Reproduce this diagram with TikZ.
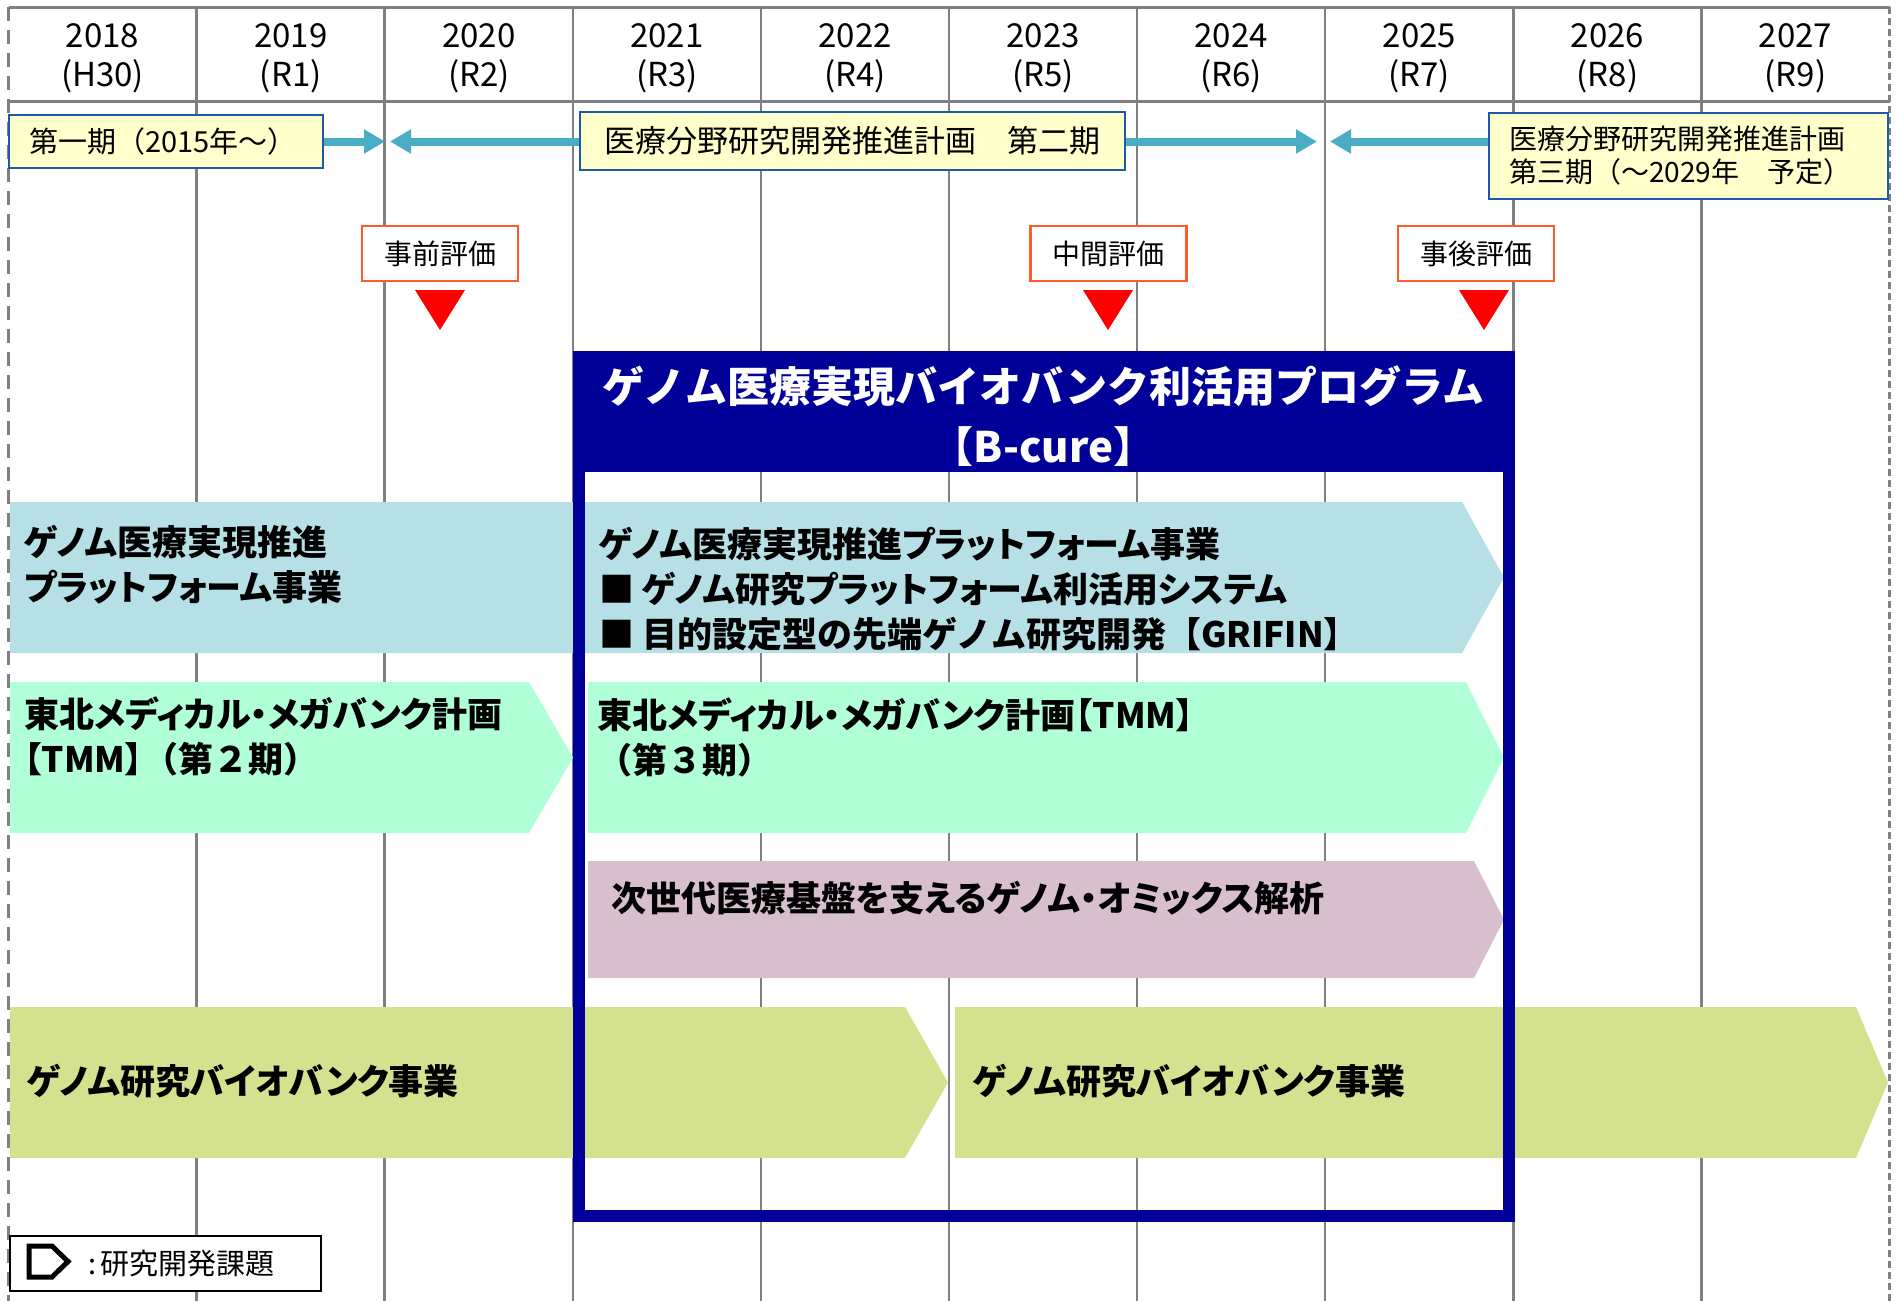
\documentclass[tikz,border=0pt]{standalone}
\usepackage{fontspec}
\setmainfont{Noto Sans CJK JP}
\newfontfamily\bandfont{Noto Sans CJK JP}[RawFeature=+palt]
\usetikzlibrary{arrows.meta}
\definecolor{gridgray}{RGB}{128,128,128}
\definecolor{phasefill}{RGB}{255,255,204}
\definecolor{phaseline}{RGB}{30,90,170}
\definecolor{phaseteal}{RGB}{75,172,198}
\definecolor{evalline}{RGB}{255,90,40}
\definecolor{bcure}{RGB}{0,0,153}
\definecolor{genomeblue}{RGB}{183,224,230}
\definecolor{tmmgreen}{RGB}{176,255,215}
\definecolor{omicsmauve}{RGB}{216,191,206}
\definecolor{biobankgreen}{RGB}{212,225,142}

\begin{document}
\begin{tikzpicture}[x=1pt,y=-1pt,
    yearlabel/.style ={align=center, font=\fontsize{33}{39}\selectfont},
    phasebox/.style ={draw=phaseline, fill=phasefill, line width=2.5pt, font=\fontsize{28}{33}\selectfont},
    phasearrow/.style ={draw=phaseteal, line width=8pt, -{Triangle[width=23pt,length=21pt]}},
    evalbox/.style ={draw=evalline, fill=white, line width=2.5pt, minimum width=156pt, minimum height=55pt, font=\fontsize{28}{33}\selectfont},
    gridline/.style ={gridgray, line width=2.5pt},
    bandtext/.style ={anchor=west, align=left, inner sep=0pt, font=\bandfont\bfseries\fontsize{35}{45}\selectfont}]
   \useasboundingbox (0,0) rectangle (1897,1301);
   \fill[white] (0,0) rectangle (1897,1301);

   % year grid
   \draw[gridline, line width=3pt] (8.5,7) -- (1889.5,7);
   \draw[gridline, line width=3pt] (8.5,101.5) -- (1889.5,101.5);
   \draw[gridline, dash pattern=on 14pt off 9pt] (8.5,7) -- (8.5,1301);
   \draw[gridline] (196.6,7) -- (196.6,1301);
   \draw[gridline] (384.7,7) -- (384.7,1301);
   \draw[gridline] (572.8,7) -- (572.8,1301);
   \draw[gridline] (760.9,7) -- (760.9,1301);
   \draw[gridline] (949.0,7) -- (949.0,1301);
   \draw[gridline] (1137.1,7) -- (1137.1,1301);
   \draw[gridline] (1325.2,7) -- (1325.2,1301);
   \draw[gridline] (1513.3,7) -- (1513.3,1301);
   \draw[gridline] (1701.4,7) -- (1701.4,1301);
   \draw[gridline, dash pattern=on 7pt off 4pt] (1889.5,7) -- (1889.5,1301);

   \node[yearlabel] (y2018) at (102.6,58) {2018\\(H30)};
   \node[yearlabel] (y2019) at (290.7,58) {2019\\(R1)};
   \node[yearlabel] (y2020) at (478.8,58) {2020\\(R2)};
   \node[yearlabel] (y2021) at (666.9,58) {2021\\(R3)};
   \node[yearlabel] (y2022) at (855.0,58) {2022\\(R4)};
   \node[yearlabel] (y2023) at (1043.1,58) {2023\\(R5)};
   \node[yearlabel] (y2024) at (1231.2,58) {2024\\(R6)};
   \node[yearlabel] (y2025) at (1419.3,58) {2025\\(R7)};
   \node[yearlabel] (y2026) at (1607.4,58) {2026\\(R8)};
   \node[yearlabel] (y2027) at (1795.5,58) {2027\\(R9)};

   % plan periods
   \node[phasebox, text width=274pt, inner xsep=20pt, minimum height=53pt, align=left, font=\fontsize{29}{33}\selectfont] (p1) at (166,141.5) {第一期（2015年～）};
   \node[phasebox, minimum width=545pt, minimum height=58pt, font=\fontsize{31}{36}\selectfont] (p2) at (852.5,141) {医療分野研究開発推進計画　第二期};
   \node[phasebox, text width=359pt, inner xsep=20pt, minimum height=86pt, align=left] (p3) at (1688.5,156) {医療分野研究開発推進計画\\第三期（～2029年　予定）};

   \coordinate (t1) at (385,141.5);
   \coordinate (t2) at (390,141.5);
   \coordinate (t3) at (1317,141.5);
   \coordinate (t4) at (1330,141.5);
   \draw[phasearrow] (p1.east |- t1) -- (t1);
   \draw[phasearrow] (p2.west |- t2) -- (t2);
   \draw[phasearrow] (p2.east |- t3) -- (t3);
   \draw[phasearrow] (p3.west |- t4) -- (t4);

   % evaluations
   \node[evalbox] (ev1) at (440,253.5) {事前評価};
   \node[evalbox] (ev2) at (1108.5,253.5) {中間評価};
   \node[evalbox] (ev3) at (1476,253.5) {事後評価};
   \fill[red] (415,290) -- (465,290) -- (440,330) -- cycle;
   \fill[red] (1083,290) -- (1133,290) -- (1108,330) -- cycle;
   \fill[red] (1459,290) -- (1509,290) -- (1484,330) -- cycle;

   % research projects
   \fill[genomeblue] (10,502) -- (1462,502) -- (1504,577.5) -- (1462,653) -- (10,653) -- cycle;
   \fill[tmmgreen] (10,682) -- (529,682) -- (573,757.5) -- (529,833) -- (10,833) -- cycle;
   \fill[tmmgreen] (588,682) -- (1466,682) -- (1504,757.5) -- (1466,833) -- (588,833) -- cycle;
   \fill[omicsmauve] (588,861) -- (1474,861) -- (1504,919.5) -- (1474,978) -- (588,978) -- cycle;
   \fill[biobankgreen] (10,1007) -- (905,1007) -- (948,1082.5) -- (905,1158) -- (10,1158) -- cycle;
   \fill[biobankgreen] (955,1007) -- (1856,1007) -- (1888,1082.5) -- (1856,1158) -- (955,1158) -- cycle;

   % B-cure frame
   \draw[bcure, line width=12pt] (579,357) rectangle (1508.5,1216);
   \fill[bcure] (573,351) rectangle (1514.5,472);
   \node[align=center, text=white, font=\bfseries\fontsize{42}{60}\selectfont] (bcuretitle) at (1043.5,416) {ゲノム医療実現バイオバンク利活用プログラム\\【B-cure】};

   \node[bandtext] (gpf1) at (24,564.5) {ゲノム医療実現推進\\プラットフォーム事業};
   \node[bandtext] (gpf2) at (599,589) {ゲノム医療実現推進プラットフォーム事業\\■ ゲノム研究プラットフォーム利活用システム\\■ {\rmfamily 目的設定型の先端ゲノム研究開発【GRIFIN】}};
   \node[bandtext] (tmm2) at (24,736.5) {東北メディカル・メガバンク計画\\【TMM】{\rmfamily （第２期）}};
   \node[bandtext] (tmm3) at (597,737) {東北メディカル・メガバンク計画【TMM】\\{\rmfamily （第３期）}};
   \node[bandtext] (omics) at (611,898.5) {次世代医療基盤を支えるゲノム・オミックス解析};
   \node[bandtext] (biobank1) at (27,1081) {ゲノム研究バイオバンク事業};
   \node[bandtext] (biobank2) at (973,1081) {ゲノム研究バイオバンク事業};

   % legend
   \node[draw, line width=2pt, fill=white, minimum width=311pt, minimum height=55pt] (legend) at (165.5,1263.5) {};
   \draw[line width=5pt] (29,1246) -- (52,1246) -- (68,1261.5) -- (52,1277) -- (29,1277) -- cycle;
   \node[anchor=west, inner sep=0pt, font=\fontsize{29}{33}\selectfont] (legendtext) at (88,1264) {:\hspace{4pt}研究開発課題};
\end{tikzpicture}
\end{document}
